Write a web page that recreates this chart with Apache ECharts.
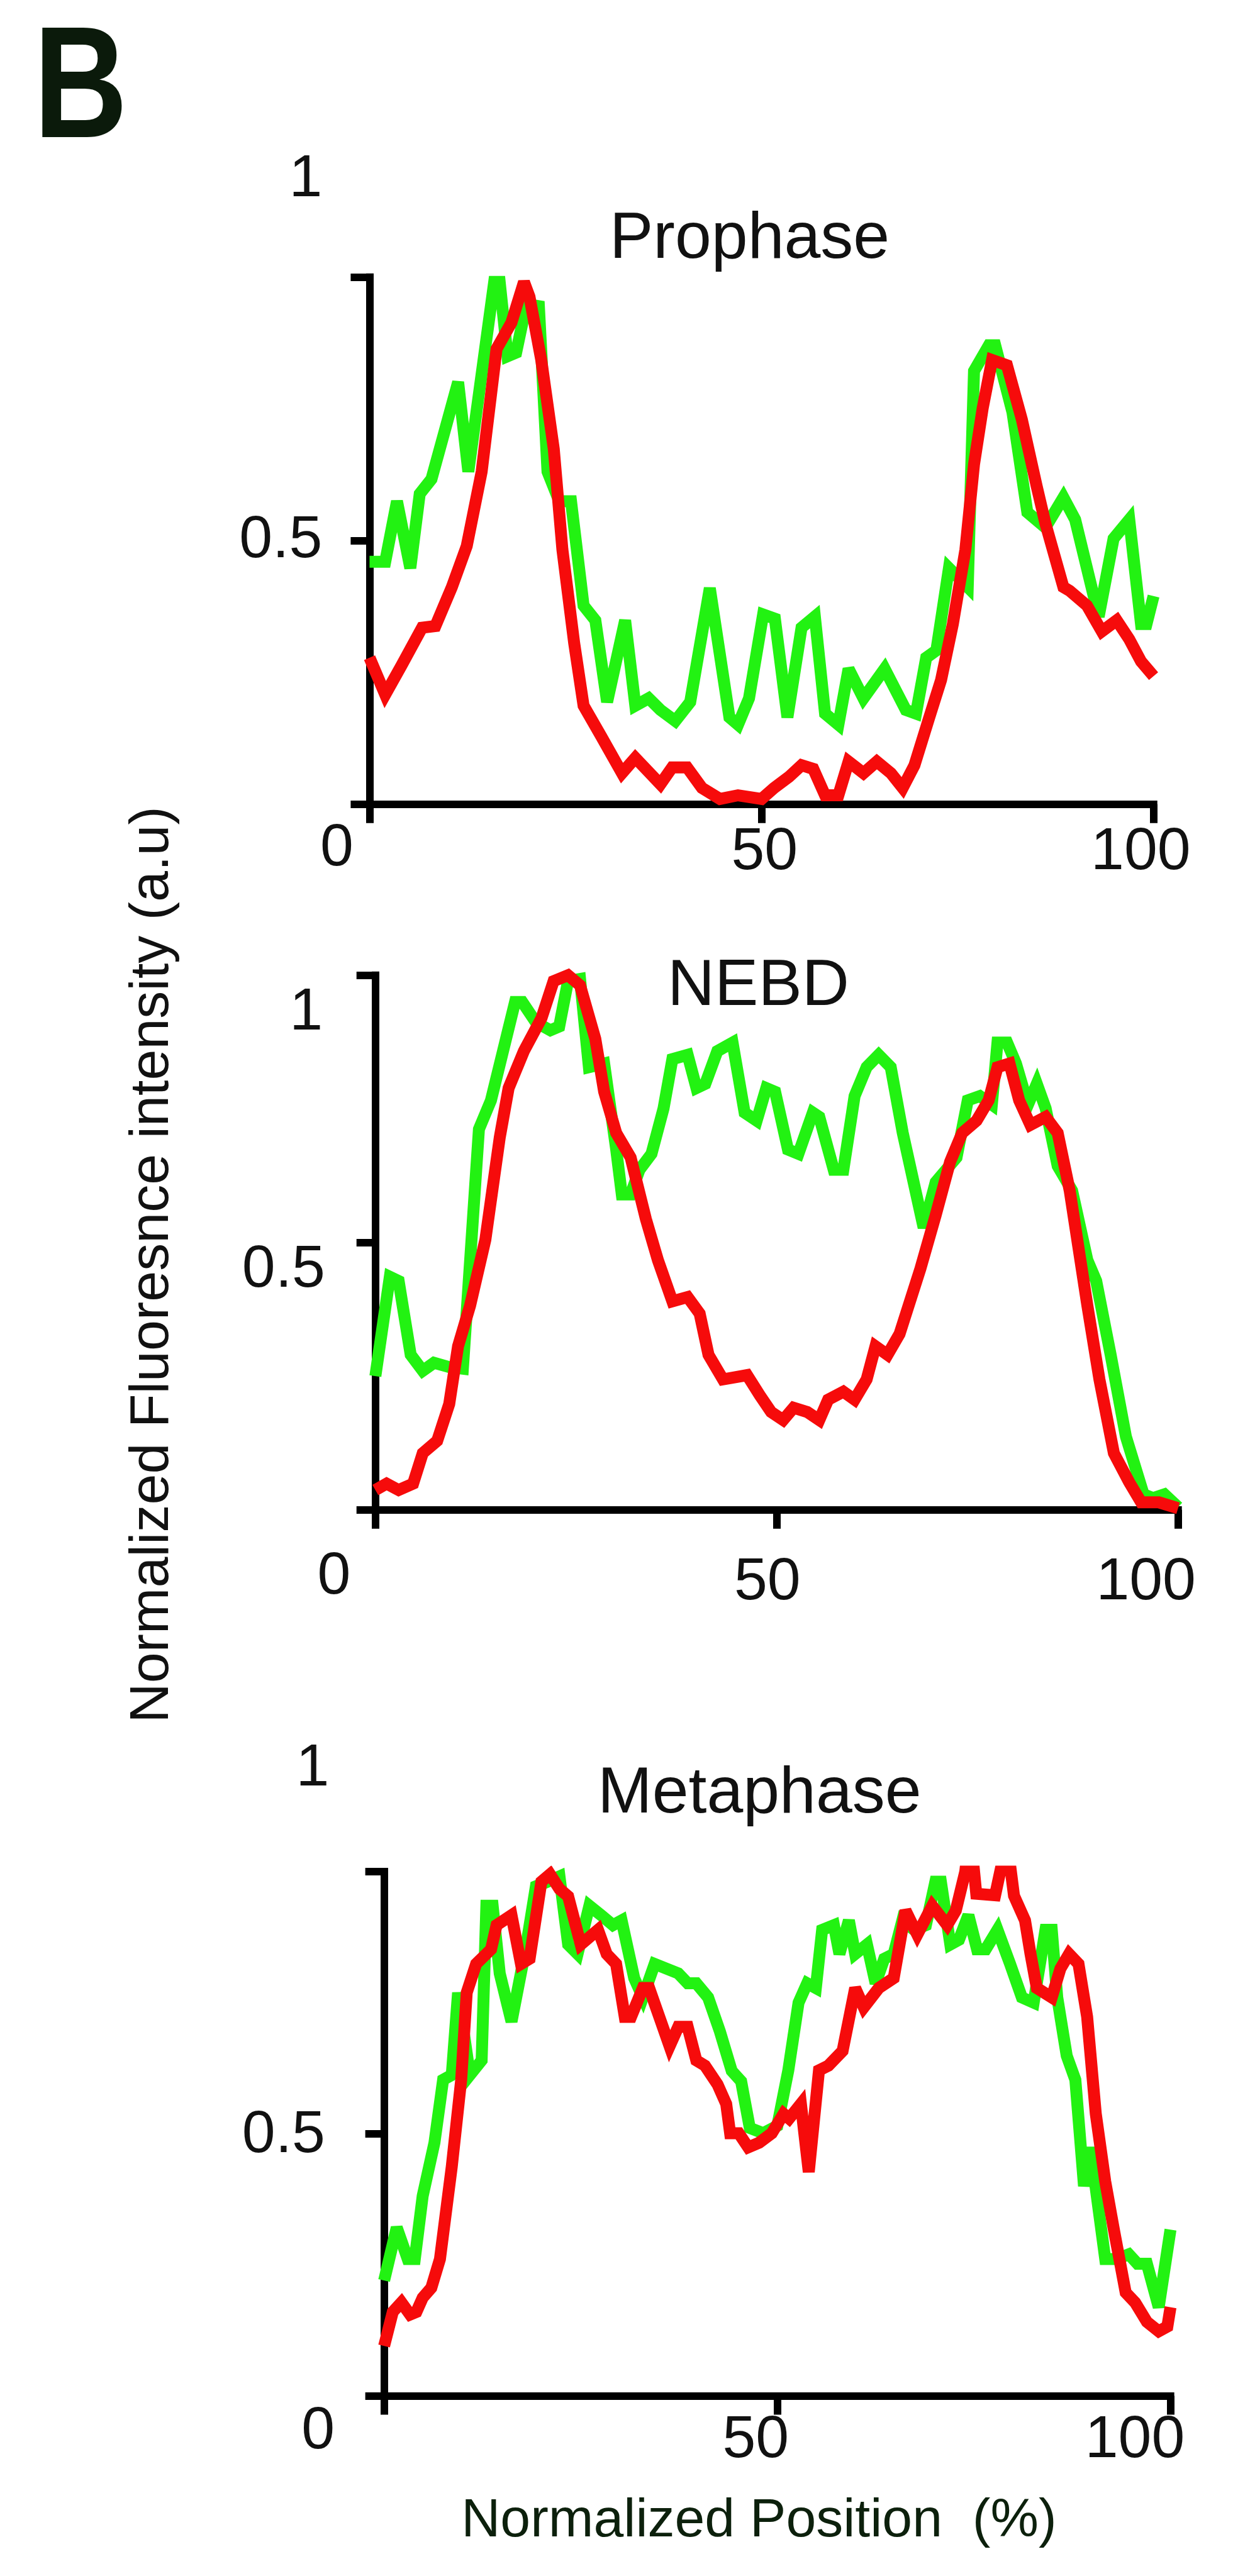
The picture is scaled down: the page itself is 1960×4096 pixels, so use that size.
<!DOCTYPE html>
<html>
<head>
<meta charset="utf-8">
<script src="https://cdn.jsdelivr.net/npm/echarts@6/dist/echarts.min.js"></script>
<style>
html,body{margin:0;padding:0;background:#fff;}
#c{width:1960px;height:4096px;}
</style>
</head>
<body>
<div id="c"></div>
<script>
// ---------------- data ----------------
const xTicks = [0, 50, 100];
const yTicks = [0, 0.5, 1];
const panelTitles = ['Prophase', 'NEBD', 'Metaphase'];
const yTitle = 'Normalized Fluoresnce intensity (a.u)';
const xTitle = 'Normalized Position  (%)';
const panelLetter = 'B';

const prophaseGreen = [[0,0.46],[2.0,0.46],[3.5,0.575],[5.2,0.448],[6.4,0.589],[7.9,0.617],[11.3,0.801],[12.6,0.631],[15.9,0.991],[16.6,0.991],[17.6,0.85],[18.7,0.857],[20.0,0.949],[21.6,0.945],[22.7,0.631],[24.2,0.575],[25.7,0.575],[27.3,0.377],[28.8,0.349],[30.3,0.194],[32.6,0.349],[33.9,0.187],[35.6,0.201],[37.1,0.179],[39.0,0.158],[40.9,0.194],[43.4,0.41],[45.9,0.165],[47.0,0.151],[48.4,0.201],[50.2,0.36],[51.7,0.352],[53.3,0.165],[55.1,0.335],[56.8,0.356],[58.1,0.172],[59.8,0.151],[61.1,0.257],[63.0,0.201],[65.7,0.257],[68.4,0.179],[69.7,0.172],[71.0,0.278],[72.3,0.292],[73.9,0.448],[76.3,0.412],[77.1,0.822],[79.0,0.871],[79.8,0.871],[82.0,0.744],[83.9,0.554],[86.2,0.525],[88.5,0.582],[90.0,0.54],[93.0,0.356],[94.9,0.504],[96.9,0.54],[98.4,0.342],[99.1,0.342],[100,0.395]];
const prophaseRed = [[0,0.278],[2.0,0.208],[4.1,0.264],[6.7,0.335],[8.4,0.338],[10.5,0.412],[12.4,0.49],[14.3,0.631],[16.2,0.864],[18.1,0.914],[19.7,0.991],[20.4,0.963],[21.9,0.843],[23.5,0.674],[24.6,0.483],[26.1,0.306],[27.3,0.187],[29.5,0.13],[32.2,0.059],[33.9,0.088],[37.1,0.038],[38.6,0.07],[40.5,0.07],[42.4,0.031],[44.7,0.01],[47.0,0.017],[50.0,0.01],[51.6,0.031],[53.5,0.052],[55.1,0.074],[56.6,0.067],[58.1,0.017],[59.8,0.017],[61.1,0.081],[63.0,0.059],[64.7,0.081],[66.5,0.059],[68.0,0.031],[69.5,0.074],[71.4,0.165],[72.9,0.236],[74.4,0.342],[76.0,0.483],[77.1,0.645],[78.2,0.751],[79.4,0.843],[81.3,0.833],[83.2,0.73],[85.1,0.603],[86.2,0.533],[88.5,0.412],[89.3,0.405],[91.5,0.377],[93.4,0.328],[95.3,0.349],[96.9,0.313],[98.4,0.271],[100,0.243]];

const nebdGreen = [[0,0.25],[1.8,0.436],[2.9,0.428],[4.4,0.29],[5.9,0.26],[7.3,0.275],[9.2,0.267],[10.9,0.264],[12.9,0.712],[14.4,0.766],[17.4,0.95],[18.3,0.95],[20.0,0.912],[21.8,0.897],[22.9,0.904],[24.0,0.989],[25.5,0.993],[26.6,0.828],[28.5,0.835],[30.0,0.674],[30.7,0.59],[31.8,0.59],[32.9,0.636],[34.4,0.666],[35.9,0.751],[37.0,0.843],[38.9,0.851],[40.0,0.789],[41.1,0.797],[42.6,0.858],[44.5,0.874],[46.0,0.743],[47.5,0.728],[48.7,0.789],[49.8,0.782],[51.4,0.674],[52.7,0.666],[54.5,0.743],[55.3,0.735],[57.1,0.636],[58.3,0.636],[59.7,0.774],[61.2,0.828],[62.7,0.851],[64.2,0.828],[65.7,0.705],[68.3,0.528],[69.8,0.613],[72.4,0.659],[73.8,0.766],[75.3,0.774],[76.8,0.758],[77.5,0.874],[78.7,0.874],[79.8,0.835],[81.3,0.758],[82.4,0.797],[83.5,0.751],[85.0,0.643],[86.8,0.597],[88.7,0.467],[89.8,0.428],[91.6,0.29],[93.5,0.137],[95.7,0.029],[96.9,0.022],[98.3,0.029],[100,0.005]];
const nebdRed = [[0,0.037],[1.4,0.049],[2.9,0.037],[4.7,0.049],[5.9,0.106],[7.7,0.129],[9.2,0.198],[10.3,0.306],[11.8,0.382],[13.7,0.505],[15.5,0.697],[16.6,0.789],[18.5,0.858],[20.7,0.92],[22.2,0.989],[24.0,1.0],[25.5,0.981],[27.4,0.881],[28.5,0.782],[30.0,0.705],[31.8,0.659],[33.7,0.544],[35.2,0.467],[37.0,0.39],[38.9,0.398],[40.4,0.367],[41.5,0.29],[43.3,0.244],[46.3,0.252],[47.9,0.214],[49.3,0.183],[50.8,0.168],[52.1,0.191],[53.8,0.183],[55.3,0.168],[56.4,0.206],[58.3,0.221],[59.7,0.206],[61.2,0.244],[62.3,0.306],[63.8,0.29],[65.3,0.329],[67.9,0.451],[69.8,0.551],[71.6,0.651],[73.1,0.705],[74.9,0.728],[76.4,0.766],[77.5,0.828],[79.0,0.835],[80.2,0.766],[81.6,0.72],[83.5,0.735],[85.0,0.705],[86.5,0.597],[88.7,0.382],[90.2,0.244],[92.0,0.106],[93.9,0.052],[95.4,0.014],[97.6,0.014],[100,0.003]];

const metaGreen = [[0,0.22],[1.6,0.321],[3.0,0.261],[3.9,0.261],[4.9,0.381],[6.4,0.483],[7.5,0.603],[8.6,0.612],[9.4,0.769],[10.9,0.612],[12.4,0.64],[13.0,0.935],[13.8,0.935],[14.7,0.806],[16.2,0.714],[18.1,0.861],[19.3,0.972],[20.8,0.981],[22.3,0.991],[23.4,0.861],[24.6,0.843],[26.1,0.935],[27.6,0.917],[29.1,0.898],[30.2,0.907],[31.8,0.797],[32.9,0.76],[34.4,0.824],[35.9,0.815],[37.4,0.806],[38.6,0.787],[39.7,0.787],[41.2,0.76],[42.7,0.695],[44.2,0.62],[45.4,0.6],[46.5,0.511],[48.2,0.501],[50.0,0.515],[51.4,0.621],[52.7,0.75],[53.8,0.787],[54.9,0.778],[55.7,0.889],[57.2,0.898],[57.9,0.843],[59.1,0.907],[59.9,0.843],[61.4,0.861],[62.5,0.787],[63.6,0.834],[64.8,0.843],[65.9,0.907],[67.4,0.889],[68.9,0.898],[70.1,0.981],[70.8,0.981],[72.0,0.861],[73.1,0.87],[74.3,0.917],[75.4,0.852],[76.5,0.852],[78.0,0.889],[79.6,0.824],[81.1,0.76],[82.6,0.75],[84.1,0.889],[84.9,0.889],[85.6,0.76],[86.8,0.649],[87.9,0.603],[89.0,0.4],[89.8,0.474],[91.7,0.261],[93.2,0.261],[94.7,0.27],[95.8,0.252],[97.0,0.252],[98.5,0.169],[100,0.317]];
const metaRed = [[0,0.095],[1.1,0.16],[2.2,0.178],[3.3,0.155],[4.1,0.16],[4.9,0.187],[6.0,0.206],[7.1,0.261],[8.6,0.437],[9.8,0.603],[10.5,0.769],[11.7,0.824],[13.6,0.852],[14.3,0.898],[16.2,0.917],[17.4,0.824],[18.5,0.834],[20.0,0.981],[21.1,0.995],[22.3,0.967],[23.4,0.953],[25.0,0.861],[25.7,0.87],[27.2,0.889],[28.3,0.843],[29.5,0.824],[30.6,0.723],[31.4,0.723],[32.9,0.778],[33.7,0.778],[35.2,0.714],[36.3,0.667],[37.4,0.704],[38.6,0.704],[39.7,0.64],[40.8,0.63],[42.4,0.594],[43.5,0.557],[44.0,0.501],[45.1,0.501],[46.3,0.474],[47.7,0.483],[49.3,0.501],[50.8,0.538],[51.5,0.529],[53.0,0.557],[54.0,0.427],[55.3,0.621],[56.5,0.63],[58.3,0.658],[59.9,0.778],[61.0,0.741],[62.9,0.778],[64.8,0.797],[66.3,0.926],[67.8,0.88],[69.7,0.935],[71.6,0.898],[72.7,0.926],[73.9,1.0],[74.5,1.08],[75.3,0.958],[77.7,0.955],[79.2,1.06],[80.1,0.954],[81.5,0.907],[82.2,0.843],[83.0,0.778],[84.9,0.76],[86.0,0.815],[87.1,0.843],[88.3,0.824],[89.4,0.723],[90.5,0.538],[91.7,0.409],[92.8,0.317],[94.3,0.197],[95.5,0.178],[97.0,0.141],[98.5,0.123],[99.6,0.132],[100,0.169]];

const seriesData = [[prophaseGreen, prophaseRed], [nebdGreen, nebdRed], [metaGreen, metaRed]];

// ---------------- layout (reference px, scaled by S) ----------------
const S = 0.928;
const FONT = "'Liberation Sans', Arial, Helvetica, sans-serif";
const GREEN = '#22f212';
const RED = '#f60b0b';
const INK = '#111111';
const LABEL_FS = 95;
const AX_W = 12;
const TICK_LEN = 30;
const LINE_W = 19;

const layout = [
  {x0:633, x1:1976, y1:475, y0:1378, clip:false,
   xOff:{'0':[-56,76],'50':[5,90],'100':[-22,90]},
   yOff:{'0.5':[81,0],'1':[81,-167]},
   title:[1284,411]},
  {x0:643, x1:2018, y1:1671, y0:2587, clip:false,
   xOff:{'0':[-71,115],'50':[-16,135],'100':[-55,135]},
   yOff:{'0.5':[86,47],'1':[90,65]},
   title:[1299,1691]},
  {x0:658, x1:2005, y1:3207, y0:4105, clip:true,
   xOff:{'0':[-113,62],'50':[-37,91],'100':[-61,91]},
   yOff:{'0.5':[101,3],'1':[94,-176]},
   title:[1301,3075]}
];

function key(v){ return 'v' + String(v).replace('.', '_'); }

function xLabel(off){
  const fs = LABEL_FS;
  let margin = Infinity;
  for (const k in off) margin = Math.min(margin, off[k][1]*S - fs/2);
  margin = Math.max(0, margin);
  const rich = {};
  for (const k in off){
    const dx = off[k][0]*S, dy = off[k][1]*S;
    const pt = dy - fs/2 - margin;
    rich[key(k)] = {fontSize:fs, fontFamily:FONT, color:INK, lineHeight:fs,
      padding:[pt, Math.max(0,-2*dx), 0, Math.max(0,2*dx)]};
  }
  return {show:true, margin, rich,
    formatter: v => off[String(v)] ? '{' + key(v) + '|' + v + '}' : ''};
}
function yLabel(off){
  const fs = LABEL_FS;
  let margin = Infinity;
  for (const k in off) margin = Math.min(margin, off[k][0]*S);
  const rich = {};
  for (const k in off){
    const gap = off[k][0]*S, dy = off[k][1]*S;
    rich[key(k)] = {fontSize:fs, fontFamily:FONT, color:INK, lineHeight:fs,
      padding:[Math.max(0,2*dy), gap - margin, Math.max(0,-2*dy), 0]};
  }
  return {show:true, margin, rich,
    formatter: v => off[String(v)] ? '{' + key(v) + '|' + v + '}' : ''};
}

const grids = [], xAxes = [], yAxes = [], series = [], graphics = [];
layout.forEach((L, i) => {
  grids.push({left:L.x0*S, top:L.y1*S, width:(L.x1-L.x0)*S, height:(L.y0-L.y1)*S,
    containLabel:false, outerBoundsMode:'none'});
  const axLine = {show:true, onZero:false, lineStyle:{color:'#000', width:AX_W, cap:'square'}};
  const axTick = {show:true, length:TICK_LEN, lineStyle:{color:'#000', width:AX_W}};
  xAxes.push({type:'value', gridIndex:i, min:xTicks[0], max:xTicks[xTicks.length-1], interval:xTicks[1]-xTicks[0],
    axisLine:axLine, axisTick:axTick, splitLine:{show:false}, axisLabel:xLabel(L.xOff)});
  yAxes.push({type:'value', gridIndex:i, min:yTicks[0], max:yTicks[yTicks.length-1], interval:yTicks[1]-yTicks[0],
    axisLine:axLine, axisTick:axTick, splitLine:{show:false}, axisLabel:yLabel(L.yOff)});
  const [g, r] = seriesData[i];
  [[g, GREEN], [r, RED]].forEach(([d, col], j) => {
    series.push({type:'line', xAxisIndex:i, yAxisIndex:i, data:d, showSymbol:false, symbol:'none',
      clip:L.clip, z:3+j, animation:false,
      lineStyle:{color:col, width:LINE_W, join:'miter', miterLimit:3}});
  });
  graphics.push({type:'text', x:L.title[0]*S, y:L.title[1]*S, z:10,
    style:{text:panelTitles[i], fontSize:104, fontFamily:FONT, fill:INK,
      align:'center', verticalAlign:'middle', textAlign:'center', textVerticalAlign:'middle'}});
});

graphics.push({type:'text', x:138*S, y:160*S, scaleX:0.82, z:10,
  style:{text:panelLetter, fontSize:252, fontWeight:'bold', fontFamily:FONT, fill:'#0b1a0b',
    align:'center', verticalAlign:'middle', textAlign:'center', textVerticalAlign:'middle'}});
graphics.push({type:'text', x:262*S, y:2167*S, rotation:Math.PI/2, z:10,
  style:{text:yTitle, fontSize:88, fontFamily:FONT, fill:INK,
    align:'center', verticalAlign:'middle', textAlign:'center', textVerticalAlign:'middle'}});
graphics.push({type:'text', x:1300*S, y:4320*S, z:10,
  style:{text:xTitle, fontSize:86, fontFamily:FONT, fill:'#0c200c',
    align:'center', verticalAlign:'middle', textAlign:'center', textVerticalAlign:'middle'}});

const chart = echarts.init(document.getElementById('c'), null, {renderer:'canvas', width:1960, height:4096});
chart.setOption({
  backgroundColor:'#ffffff',
  animation:false,
  grid:grids, xAxis:xAxes, yAxis:yAxes, series:series,
  graphic:graphics
});
</script>
</body>
</html>
